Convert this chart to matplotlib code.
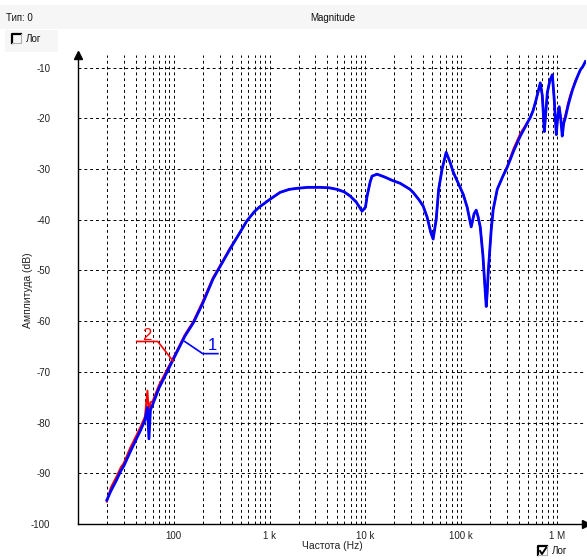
import numpy as np
import matplotlib
matplotlib.use("Agg")
from matplotlib import pyplot as plt
from matplotlib.patches import Rectangle
from matplotlib.lines import Line2D

# частоты (Hz) и амплитуды (dB) двух измерений
freq = [20, 22, 25, 28, 30, 35, 40, 45, 50, 53,
        55, 57, 60, 70, 85, 100, 130, 160, 200, 256,
        300, 385, 480, 579, 700, 792, 1000, 1283, 1600, 1929,
        2500, 3356, 4200, 5050, 6000, 6900, 8000, 9200, 10000, 10400,
        11200, 11700, 13200, 16000, 19400, 23000, 29200, 31400, 36000, 40000,
        44000, 48000, 50800, 54700, 58000, 63000, 69500, 76500, 82300, 95000,
        104700, 115000, 126800, 136000, 143000, 150000, 157500, 168000, 177700, 182000,
        186000, 191000, 205000, 215000, 237000, 270000, 302000, 350000, 412000, 470000,
        525000, 560000, 600000, 667000, 700000, 735000, 760000, 790000, 840000, 891000,
        930000, 980000, 1010000, 1050000, 1090000, 1130000, 1170000, 1220000, 1300000, 1370000,
        1450000, 1550000, 1650000, 1750000, 1850000, 1970000]

amp1 = [-95.3, -93.5, -91.5, -89.5, -88.6, -85.8, -83.5, -81.5, -79.5, -77.0,
        -83.2, -77.5, -76.5, -73.2, -70.0, -67.3, -63.0, -60.3, -56.5, -51.7,
        -49.4, -45.8, -42.8, -40.2, -38.3, -37.4, -36.0, -34.6, -34.0, -33.8,
        -33.6, -33.6, -33.7, -34.0, -34.5, -35.3, -36.5, -38.3, -37.5, -35.3,
        -32.5, -31.4, -31.0, -31.6, -32.3, -32.8, -34.0, -34.6, -36.0, -37.3,
        -39.5, -42.5, -43.8, -39.9, -34.0, -30.0, -26.7, -28.7, -30.6, -33.2,
        -35.0, -37.5, -41.4, -38.8, -38.1, -39.5, -41.4, -47.0, -54.2, -57.1,
        -54.5, -50.3, -42.0, -38.0, -34.0, -31.5, -29.6, -26.5, -23.5, -21.5,
        -19.8, -18.5, -16.5, -13.0, -15.5, -22.6, -19.0, -14.9, -12.5, -11.4,
        -16.0, -23.2, -20.0, -17.7, -20.0, -23.5, -21.0, -19.8, -17.5, -15.9,
        -14.3, -12.8, -11.5, -10.4, -9.8, -8.8]

amp2 = [-95.6, -92.8, -90.8, -88.8, -88.0, -85.0, -82.8, -80.8, -78.8, -73.7,
        -78.5, -76.0, -75.8, -72.6, -69.5, -67.0, -62.7, -60.0, -56.1, -51.4,
        -49.2, -45.6, -42.7, -40.2, -38.3, -37.4, -36.0, -34.6, -34.0, -33.8,
        -33.6, -33.6, -33.7, -34.0, -34.5, -35.3, -36.5, -38.3, -37.5, -35.3,
        -32.5, -31.4, -31.0, -31.6, -32.3, -32.8, -34.0, -34.6, -36.0, -37.3,
        -39.5, -42.5, -43.8, -39.9, -34.0, -30.0, -26.7, -28.7, -30.6, -33.2,
        -35.0, -37.5, -41.4, -38.8, -38.1, -39.5, -41.4, -47.0, -54.2, -57.1,
        -54.5, -50.3, -42.0, -38.0, -34.0, -31.5, -29.4, -26.0, -23.0, -21.3,
        -19.8, -18.5, -16.5, -13.0, -15.5, -22.6, -19.0, -14.9, -12.5, -11.4,
        -16.0, -23.2, -20.0, -17.7, -20.0, -23.0, -20.6, -19.3, -17.0, -15.4,
        -14.1, -12.5, -11.5, -10.4, -9.8, -8.8]

yticks = [-100, -90, -80, -70, -60, -50, -40, -30, -20, -10]
xticks = [100, 1e3, 1e4, 1e5, 1e6]
xlabels = ["100", "1 k", "10 k", "100 k", "1 M"]

plt.rcParams['font.family'] = ['Liberation Sans', 'DejaVu Sans']

W, H = 587, 560
fig = plt.figure(figsize=(W/100, H/100), dpi=100)
ax = fig.add_axes([78/W, 36/H, 508/W, 469/H])

ax.plot(freq, amp2, color="red", lw=1.4, zorder=3)
ax.plot(freq, amp1, color="blue", lw=2.0, zorder=4)

ax.set_xscale("log")
ax.set_xlim(10, 2.0e6)
ax.set_ylim(-100, -7.5)

ax.set_xticks(xticks)
ax.set_xticklabels(xlabels)
minor = [m * 10**d for d in range(1, 7) for m in range(2, 10) if m * 10**d < 2e6]
ax.set_xticks(minor, minor=True)
ax.set_xticklabels([], minor=True)
ax.set_yticks(yticks)
ax.set_yticklabels([str(v) for v in yticks])

gs = dict(color="black", lw=0.7, linestyle=(0, (3, 3)))
ax.grid(True, which="major", axis="both", **gs)
ax.grid(True, which="minor", axis="x", **gs)
ax.tick_params(which="both", length=0, labelsize=7, labelcolor="#222222")
ax.tick_params(axis="y", pad=20)
ax.tick_params(axis="x", pad=5)

for s in ["top", "right"]:
    ax.spines[s].set_visible(False)
ax.spines["left"].set_linewidth(1.0)
ax.spines["bottom"].set_linewidth(1.0)
ax.plot(0, 1, marker="^", color="black", ms=6, transform=ax.transAxes, clip_on=False)
ax.plot(1, 0, marker=">", color="black", ms=6, transform=ax.transAxes, clip_on=False)

# подписи кривых
ax.plot([41, 68, 97.6], [-64.0, -64.0, -67.8], color="red", lw=1.2, zorder=5)
ax.text(52, -62.8, "2", color="red", fontsize=12, ha="center", va="center")
ax.plot([130, 200, 288], [-64.0, -66.4, -66.4], color="blue", lw=1.2, zorder=5)
ax.text(250, -64.7, "1", color="blue", fontsize=12, ha="center", va="center")


def fx(px):
    return px / W


def fy(py):
    return 1 - py / H


def checkbox(x0, y0, w, h, checked):
    fig.lines.append(Line2D([fx(x0), fx(x0), fx(x0 + w)], [fy(y0 + h), fy(y0), fy(y0)],
                            transform=fig.transFigure, color="black", lw=1.6))
    fig.lines.append(Line2D([fx(x0), fx(x0 + w), fx(x0 + w)], [fy(y0 + h), fy(y0 + h), fy(y0)],
                            transform=fig.transFigure, color="#b0b0b0", lw=0.8))
    if checked:
        fig.lines.append(Line2D([fx(x0 + 2), fx(x0 + 4), fx(x0 + 8)],
                                [fy(y0 + 5), fy(y0 + 8), fy(y0 + 2)],
                                transform=fig.transFigure, color="black", lw=1.4))


# шапка
fig.patches.append(Rectangle((0, fy(29)), 1, 24/H, transform=fig.transFigure,
                             facecolor="#f6f6f6", edgecolor="none", zorder=0))
fig.patches.append(Rectangle((fx(5), fy(52)), 53/W, 22/H, transform=fig.transFigure,
                             facecolor="#f6f6f6", edgecolor="none", zorder=0))
fig.text(fx(6), fy(18), "Тип: 0", fontsize=7, va="center", ha="left", color="#111111")
fig.text(fx(333), fy(18), "Magnitude", fontsize=7, va="center", ha="center", color="#111111")
checkbox(12, 34, 9, 9, False)
fig.text(fx(26), fy(39), "Лог", fontsize=7, va="center", ha="left", color="#111111")
checkbox(538, 546, 9, 9, True)
fig.text(fx(552), fy(551), "Лог", fontsize=7, va="center", ha="left", color="#111111")

fig.text(fx(28), fy(290), "Амплитуда (dB)", fontsize=7.5, rotation=90,
         va="center", ha="center", color="#222222")
fig.text(fx(332), fy(546), "Частота (Hz)", fontsize=7.5, va="center", ha="center",
         color="#222222")

fig.savefig("out.png", dpi=100)
